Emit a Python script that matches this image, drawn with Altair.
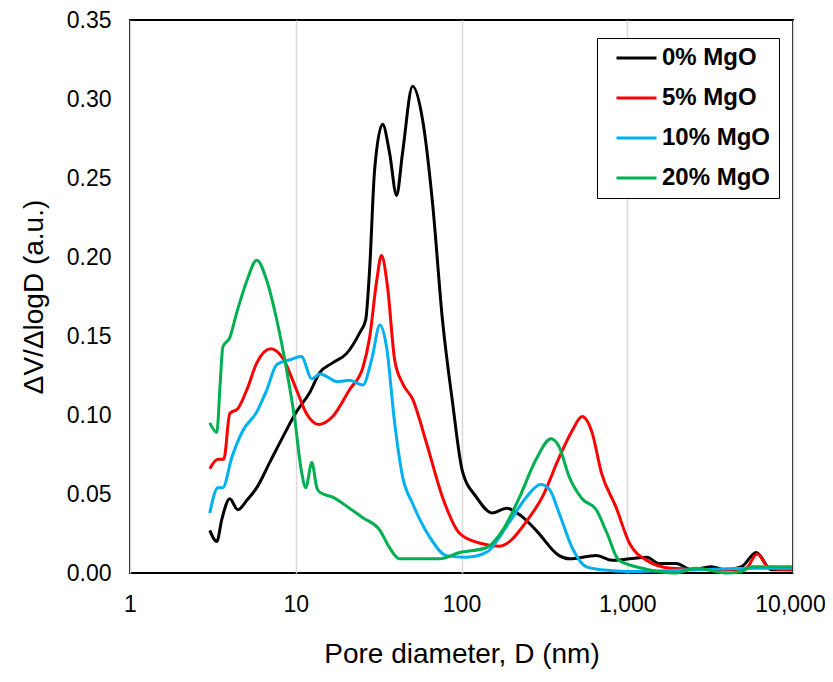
import altair as alt
import pandas as pd

# series names and line colours
series = ["0% MgO", "5% MgO", "10% MgO", "20% MgO"]
colors = ["#000000", "#FF0000", "#00B0F0", "#00B050"]

# pore diameter (nm) and dV/dlogD
d_0 = [3.03, 3.34, 3.58, 4.00, 4.47, 5.07, 5.82, 6.97, 8.35, 10.1, 12.1, 14.0, 16.7,
       20.3, 24.3, 26.4, 27.9, 29.9, 33.4, 36.8, 40.6, 44.1, 50.7, 58.2, 66.9, 76.8,
       88.3, 101, 123, 153, 187, 230, 282, 388, 446, 650, 810, 1310, 1560, 1970,
       2460, 3200, 3930, 4900, 6000, 7400, 9850]
v_0 = [0.027, 0.020, 0.034, 0.047, 0.040, 0.046, 0.054, 0.070, 0.086, 0.102, 0.114,
       0.127, 0.133, 0.139, 0.152, 0.160, 0.192, 0.255, 0.284, 0.266, 0.239, 0.266,
       0.308, 0.287, 0.234, 0.160, 0.108, 0.065, 0.048, 0.038, 0.041, 0.036, 0.027,
       0.011, 0.009, 0.011, 0.008, 0.010, 0.006, 0.006, 0.002, 0.004, 0.002, 0.004,
       0.013, 0.002, 0.002]

d_5 = [3.03, 3.39, 3.68, 4.00, 4.47, 5.07, 5.82, 7.07, 8.35, 10.1, 11.6, 13.8, 16.7,
       21.1, 25.4, 27.9, 30.7, 32.9, 35.8, 39.5, 44.1, 50.7, 61.6, 76.8, 97.6, 128,
       169, 256, 307, 388, 465, 534, 613, 700, 853, 1030, 1310, 1850, 3930, 5200,
       6070, 7220, 9850]
v_5 = [0.066, 0.072, 0.072, 0.101, 0.104, 0.116, 0.133, 0.142, 0.136, 0.116, 0.101,
       0.094, 0.099, 0.116, 0.130, 0.149, 0.184, 0.201, 0.181, 0.135, 0.120, 0.110,
       0.082, 0.048, 0.025, 0.019, 0.017, 0.035, 0.048, 0.073, 0.090, 0.099, 0.089,
       0.063, 0.042, 0.019, 0.008, 0.003, 0.002, 0.003, 0.012, 0.003, 0.002]

d_10 = [3.03, 3.39, 3.63, 4.11, 4.79, 5.82, 6.69, 7.69, 9.22, 10.8, 12.5, 14.0, 17.9,
        21.1, 25.4, 28.7, 32.2, 35.3, 39.5, 44.1, 50.7, 64.1, 81.2, 107, 141, 194,
        246, 300, 339, 388, 465, 565, 700, 1030, 2460, 6000, 9850]
v_10 = [0.038, 0.054, 0.054, 0.073, 0.090, 0.102, 0.116, 0.132, 0.135, 0.137, 0.123,
        0.126, 0.121, 0.122, 0.119, 0.135, 0.157, 0.143, 0.095, 0.061, 0.044, 0.023,
        0.011, 0.010, 0.013, 0.032, 0.048, 0.056, 0.053, 0.038, 0.016, 0.004, 0.002,
        0.001, 0.002, 0.003, 0.003]

d_20 = [3.03, 3.34, 3.50, 3.63, 4.00, 4.41, 5.07, 5.82, 6.69, 7.69, 8.83, 9.87, 10.8,
        11.5, 12.5, 13.4, 14.0, 16.7, 21.1, 25.4, 32.2, 36.8, 42.3, 55.6, 73.5, 97.6,
        141, 177, 224, 282, 347, 388, 446, 534, 650, 756, 890, 1230, 1970, 2600, 3930,
        4900, 5640, 9850]
v_20 = [0.095, 0.089, 0.120, 0.143, 0.149, 0.165, 0.185, 0.198, 0.185, 0.160, 0.128,
        0.097, 0.065, 0.054, 0.070, 0.054, 0.051, 0.048, 0.041, 0.035, 0.027, 0.016,
        0.009, 0.009, 0.009, 0.013, 0.016, 0.027, 0.048, 0.072, 0.085, 0.080, 0.061,
        0.047, 0.040, 0.025, 0.008, 0.003, 0.000, 0.003, 0.000, 0.001, 0.004, 0.004]

frames = []
for name, d, v in zip(series, [d_0, d_5, d_10, d_20], [v_0, v_5, v_10, v_20]):
    frames.append(pd.DataFrame({"D": d, "V": v, "series": name}))
df = pd.concat(frames, ignore_index=True)

font = "Liberation Sans"

lines = alt.Chart(df).mark_line(strokeWidth=3, interpolate="monotone").encode(
    alt.X("D:Q",
          scale=alt.Scale(type="log", domain=[1, 10000], nice=False),
          axis=alt.Axis(values=[1, 10, 100, 1000, 10000], format=",", grid=True,
                        labelFlush=False,
                        # nudge the last label so it stays inside the page
                        labelOffset={"expr": "datum.value == 10000 ? -3 : 0"},
                        title="Pore diameter, D (nm)",
                        labelPadding=20, titlePadding=24)),
    alt.Y("V:Q",
          scale=alt.Scale(domain=[0, 0.35], nice=False),
          axis=alt.Axis(values=[0, 0.05, 0.10, 0.15, 0.20, 0.25, 0.30, 0.35],
                        format=".2f", grid=False, title="ΔV/ΔlogD (a.u.)",
                        labelPadding=19, titlePadding=18)),
    alt.Color("series:N", sort=series,
              scale=alt.Scale(domain=series, range=colors),
              legend=alt.Legend(title=None, orient="none", legendX=467, legendY=18,
                                symbolType="stroke", symbolSize=1600,
                                symbolStrokeWidth=3, symbolOffset=10,
                                clipHeight=24, rowPadding=16, padding=8,
                                labelOffset=4, labelFont=font, labelFontSize=24,
                                labelFontWeight="bold", labelColor="black",
                                strokeColor="black", fillColor="white")),
    detail="series:N",
    order=alt.Order("series:N"),
).properties(
    width=663, height=553,
    autosize=alt.AutoSizeParams(type="none"),
    padding={"left": 122, "top": 12, "right": 32, "bottom": 100},
)

chart = lines.configure_view(
    stroke="black", strokeWidth=2
).configure_axis(
    domain=False, ticks=False,
    labelFont=font, labelFontSize=23, labelColor="black",
    titleFont=font, titleFontSize=28, titleFontWeight="normal", titleColor="black",
    gridColor="#D9D9D9", gridWidth=1.5,
)

chart.save("out.html", embed_options={"renderer": "svg", "actions": False})
